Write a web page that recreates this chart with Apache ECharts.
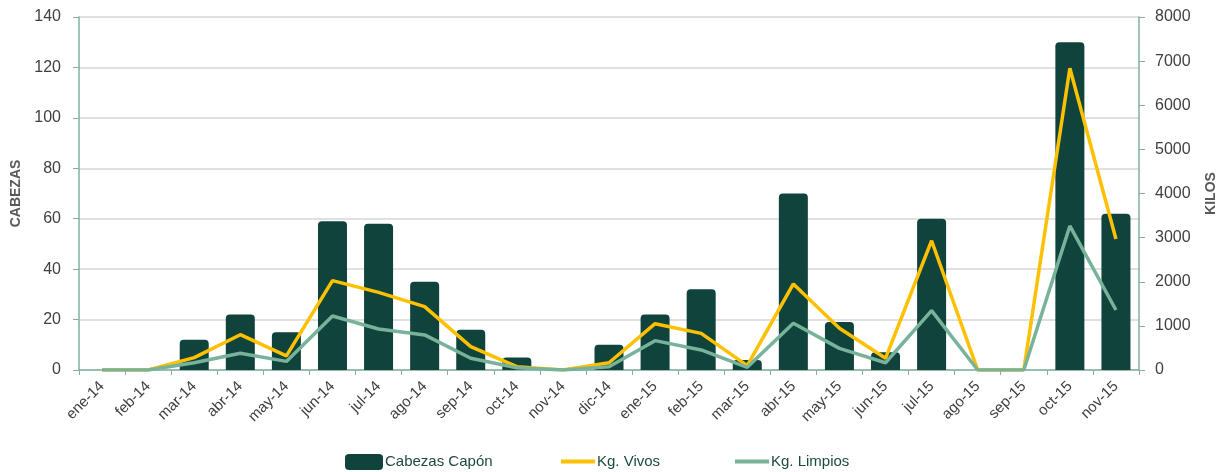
<!DOCTYPE html>
<html>
<head>
<meta charset="utf-8">
<script src="https://cdn.jsdelivr.net/npm/echarts@6/dist/echarts.min.js"></script>
<style>
  html, body { margin: 0; padding: 0; background: #fff; }
  #chart { width: 1226px; height: 472px; }
</style>
</head>
<body>
<div id="chart"></div>
<script>
// meses
const meses = ['ene-14', 'feb-14', 'mar-14', 'abr-14', 'may-14', 'jun-14', 'jul-14', 'ago-14',
  'sep-14', 'oct-14', 'nov-14', 'dic-14', 'ene-15', 'feb-15', 'mar-15', 'abr-15', 'may-15',
  'jun-15', 'jul-15', 'ago-15', 'sep-15', 'oct-15', 'nov-15']
// cabezas (eje izquierdo)
const cabezas = [0, 0, 12, 22, 15, 59, 58, 35, 16, 5, 0, 10, 22, 32, 4, 70, 19, 7, 60, 0, 0, 130, 62]
// kilos (eje derecho)
const kgVivos = [0, 0, 280, 800, 320, 2025, 1760, 1435, 530, 75, 0, 165, 1050, 830, 100, 1950, 945, 265, 2930, 0, 0, 6840, 2970]
const kgLimpios = [0, 0, 165, 380, 195, 1225, 930, 795, 265, 50, 0, 75, 665, 455, 60, 1060, 490, 165, 1345, 0, 0, 3265, 1360]

const fuente = 'Liberation Sans'
const ejeColor = '#82b1a3'

const chart = echarts.init(document.getElementById('chart'))

// una leyenda por serie para poder colocarlas como en el original
function legendItem (name, left, esLinea) {
  return {
    data: [{ name: name, icon: esLinea ? 'rect' : 'roundRect' }],
    left: left,
    top: 449,
    itemWidth: esLinea ? 34 : 38,
    itemHeight: esLinea ? 4 : 16,
    itemGap: 0,
    textStyle: { color: '#1d4a40', fontFamily: fuente, fontSize: 15, padding: [0, 0, 0, -3] }
  }
}

chart.setOption({
  animation: false,
  grid: { left: 79, right: 85, top: 17, bottom: 102 },
  legend: [
    legendItem('Cabezas Capón', 340, false),
    legendItem('Kg. Vivos', 556, true),
    legendItem('Kg. Limpios', 730, true)
  ],
  xAxis: {
    type: 'category',
    data: meses,
    axisLine: { lineStyle: { color: ejeColor, width: 1.5 } },
    axisTick: { show: true, length: 5, lineStyle: { color: ejeColor } },
    axisLabel: { rotate: 45, color: '#404040', fontFamily: fuente, fontSize: 15, margin: 14, interval: 0 }
  },
  yAxis: [
    {
      type: 'value',
      min: 0,
      max: 140,
      interval: 20,
      name: 'CABEZAS',
      nameLocation: 'middle',
      nameGap: 55,
      nameTextStyle: { color: '#595959', fontFamily: fuente, fontSize: 14, fontWeight: 'bold' },
      axisLine: { show: true, lineStyle: { color: ejeColor, width: 1.5 } },
      axisTick: { show: true, length: 6, lineStyle: { color: ejeColor } },
      axisLabel: { color: '#404040', fontFamily: fuente, fontSize: 16, margin: 18 },
      splitLine: { lineStyle: { color: '#d6d6d6', width: 1.5 } }
    },
    {
      type: 'value',
      min: 0,
      max: 8000,
      interval: 1000,
      name: 'KILOS',
      nameLocation: 'middle',
      nameGap: 65,
      nameTextStyle: { color: '#595959', fontFamily: fuente, fontSize: 14, fontWeight: 'bold' },
      axisLine: { show: true, lineStyle: { color: ejeColor, width: 1.5 } },
      axisTick: { show: true, length: 6, lineStyle: { color: ejeColor } },
      axisLabel: { color: '#404040', fontFamily: fuente, fontSize: 16, margin: 16, formatter: v => String(v) },
      splitLine: { show: false }
    }
  ],
  series: [
    {
      name: 'Cabezas Capón',
      type: 'bar',
      yAxisIndex: 0,
      barWidth: 29,
      itemStyle: { color: '#10433c', borderRadius: [4, 4, 0, 0] },
      data: cabezas
    },
    {
      name: 'Kg. Vivos',
      type: 'line',
      yAxisIndex: 1,
      symbol: 'none',
      lineStyle: { color: '#ffc000', width: 3.5 },
      itemStyle: { color: '#ffc000' },
      data: kgVivos
    },
    {
      name: 'Kg. Limpios',
      type: 'line',
      yAxisIndex: 1,
      symbol: 'none',
      lineStyle: { color: '#77b29b', width: 3.5 },
      itemStyle: { color: '#77b29b' },
      data: kgLimpios
    }
  ]
})
</script>
</body>
</html>
